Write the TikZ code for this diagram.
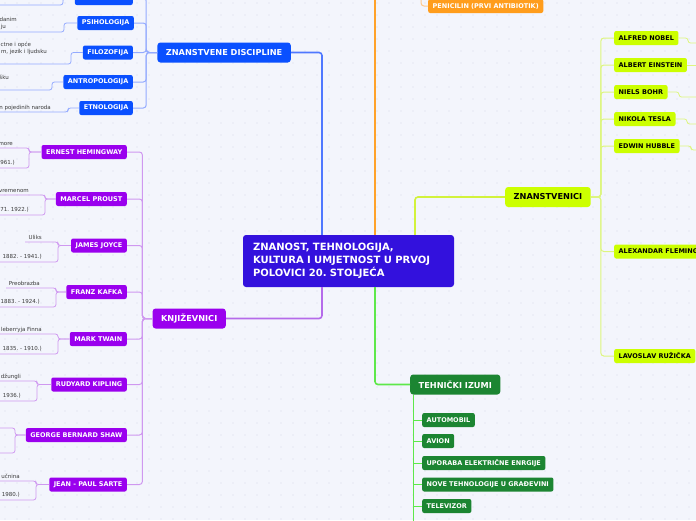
\documentclass[tikz,border=0pt]{standalone}
\usepackage{fontspec}
\setmainfont{DejaVu Sans}
\usetikzlibrary{positioning}
\frenchspacing
\definecolor{paper}{HTML}{F3F5FC}
\definecolor{dotc}{HTML}{D6DAE8}
\definecolor{rootc}{HTML}{3311DD}
\definecolor{bluec}{HTML}{0A50FF}
\definecolor{blueln}{HTML}{4F78FF}
\definecolor{bluelt}{HTML}{93AAFF}
\definecolor{orangec}{HTML}{FF9D1C}
\definecolor{orangeln}{HTML}{FFA22A}
\definecolor{orangelt}{HTML}{FFC98C}
\definecolor{limec}{HTML}{CCFF00}
\definecolor{limeln}{HTML}{D2F23C}
\definecolor{limelt}{HTML}{DDF57E}
\definecolor{greenc}{HTML}{1C8532}
\definecolor{greenln}{HTML}{5EE84A}
\definecolor{purplec}{HTML}{9A00EE}
\definecolor{purpleln}{HTML}{B56BEA}
\definecolor{purplelt}{HTML}{CF98F0}
\definecolor{leafc}{HTML}{3A3A3A}
\tikzset{
  topic/.style={rounded corners=2pt,inner xsep=4.5pt,inner ysep=0pt,minimum height=14pt,
    font=\bfseries\fontsize{6.5}{7}\selectfont,text=white},
  maintopic/.style={topic,rounded corners=3pt,inner xsep=8.5pt,minimum height=20pt,
    font=\bfseries\fontsize{8.2}{9}\selectfont},
  root/.style={fill=rootc,text=white,rounded corners=3pt,align=left,text width=191pt,
    inner xsep=10pt,minimum height=52pt,font=\bfseries\fontsize{10}{13}\selectfont},
  bt/.style={topic,fill=bluec},
  pt/.style={topic,fill=purplec},
  lt/.style={topic,fill=limec,text=black},
  gt/.style={topic,fill=greenc},
  ot/.style={topic,fill=orangec},
  leaf/.style={inner sep=0pt,anchor=base east,font=\fontsize{5.5}{6}\selectfont,text=leafc},
  trunk/.style={line width=1.6pt,rounded corners=3pt},
  link/.style={line width=1pt,rounded corners=3pt},
  under/.style={line width=0.8pt,rounded corners=2.5pt}
}
\begin{document}
\begin{tikzpicture}[x=1pt,y=-1pt]
  \useasboundingbox (0,0) rectangle (696,520);
  \fill[paper] (0,0) rectangle (696,520);
  \foreach \i in {0,...,57}{\foreach \j in {0,...,43}{\fill[dotc] (\i*12+5,\j*12+3) circle (0.55pt);}}
  \clip (0,0) rectangle (696,520);
  % centre topic
  \node[root] (root) at (348.5,261) {ZNANOST, TEHNOLOGIJA,\\KULTURA I UMJETNOST U PRVOJ\\POLOVICI 20. STOLJEĆA};
  % main topics
  \node[maintopic,fill=bluec,anchor=east] (zd) at (291,52.5) {ZNANSTVENE DISCIPLINE};
  \node[maintopic,fill=purplec,anchor=east] (kn) at (226,318.5) {KNJIŽEVNICI};
  \node[maintopic,fill=limec,text=black,anchor=west] (zn) at (505,197) {ZNANSTVENICI};
  \node[maintopic,fill=greenc,anchor=west] (ti) at (410,384.5) {TEHNIČKI IZUMI};
  \node[ot,anchor=west] (pen) at (428,6) {PENICILIN (PRVI ANTIBIOTIK)};
  % trunks
  \coordinate (xb) at (322,0);
  \coordinate (xo) at (375,-5);
  \coordinate (xl) at (415,0);
  \coordinate (xp) at (421,-5);
  \coordinate (gbot) at (413,525);
  \draw[trunk,blueln] (root.north -| xb) |- (zd.east);
  \draw[trunk,orangeln] (root.north -| xo) -- (xo);
  \draw[trunk,limeln] (root.north -| xl) |- (zn.west);
  \draw[trunk,greenln] (root.south -| xo) |- (ti.west);
  \draw[trunk,purpleln] (root.south -| xb) |- (kn.east);
  \draw[link,orangelt] (xp) |- (pen.west);
  % scientific disciplines
  \node[bt,anchor=east,minimum width=58pt] (tb) at (133,-2) {};
  \node[bt,anchor=east] (ps) at (134,23) {PSIHOLOGIJA};
  \node[bt,anchor=east] (fi) at (133,52.5) {FILOZOFIJA};
  \node[bt,anchor=east] (an) at (133,82) {ANTROPOLOGIJA};
  \node[bt,anchor=east] (et) at (133,108) {ETNOLOGIJA};
  \foreach \c in {tb,ps,fi,an,et} \draw[link,bluelt] (zd.west) -- ++(-11,0) |- (\c.east);
  \foreach \c/\vx/\vy in {tb/63/5,ps/64/32,fi/71/64,an/52/90,et/68/112}{
    \coordinate (\c-u) at (\vx,\vy);
    \draw[under,bluelt] (\c.west) -| (\c-u) -- (-5,\vy);}
  \node[leaf] (ps-t1) at (17,21.5) {danim};
  \node[leaf] (ps-t2) at (6,28.5) {ju};
  \node[leaf,anchor=base west] (fi-t1) at (0.5,46.5) {ctne i opće};
  \node[leaf] (fi-t2) at (47,53.5) {m, jezik i ljudsku};
  \node[leaf] (an-t) at (9,79.5) {šku};
  \node[leaf] (et-t) at (51,109.5) {n pojedinih naroda};
  % writers
  \foreach \c/\cy/\txt in {hem/152/ERNEST HEMINGWAY, pr/199/MARCEL PROUST, jj/245.5/JAMES JOYCE,
      fk/292/FRANZ KAFKA, mt/339/MARK TWAIN, rk/384.5/RUDYARD KIPLING,
      gb/435/GEORGE BERNARD SHAW, js/484.5/JEAN - PAUL SARTE}
    \node[pt,anchor=east] (\c) at (127,\cy) {\txt};
  \foreach \c in {hem,pr,jj,fk,mt,rk,gb,js} \draw[link,purplelt] (kn.west) -- ++(-10,0) |- (\c.east);
  \foreach \c/\vx/\ya/\yb/\xa/\toptxt/\bottxt in {
      hem/29/148/168/-5/more/961.),
      pr/45/195/215/-5/vremenom/71. 1922.),
      jj/58/242/262/25/Uliks/1882. - 1941.),
      fk/56/288/307/6/Preobrazba/1883. - 1924.),
      mt/58/334/354/-5/leberryja Finna/1835. - 1910.),
      rk/37/381/401/-5/džungli/1936.),
      gb/15/428/453/-5//,
      js/36/481/500/-5/učnina/1980.)}{
    \coordinate (\c-a) at (\vx,\ya);
    \coordinate (\c-b) at (\vx,\yb);
    \draw[under,purplelt] (\c.west) -| (\c-a) -- (\xa,\ya);
    \draw[under,purplelt] (\c.west) -| (\c-b) -- (-5,\yb);
    \node[leaf] (\c-ta) at (\vx-16,\ya-3) {\toptxt};
    \node[leaf] (\c-tb) at ({max(\vx-16,15)},\yb-4) {\bottxt};}
  % scientists
  \foreach \c/\cy/\txt in {nob/38/ALFRED NOBEL, ein/65/ALBERT EINSTEIN, boh/92/NIELS BOHR,
      tes/119/NIKOLA TESLA, hub/146/EDWIN HUBBLE, fle/251.5/ALEXANDAR FLEMING,
      ruz/356/LAVOSLAV RUŽIČKA}
    \node[lt,anchor=west] (\c) at (614,\cy) {\txt};
  \foreach \c in {nob,ein,boh,tes,hub,fle,ruz} \draw[link,limelt] (zn.east) -- ++(10,0) |- (\c.west);
  \foreach \c/\sx/\sy in {nob/688/43,boh/679/97,tes/687/124,hub/691/150}{
    \coordinate (\c-u) at (\sx,\sy);
    \draw[under,limelt] (\c.east) -| (\c-u) -- (705,\sy);}
  \coordinate (ein-u) at (705,65);
  \draw[under,limelt] (ein.east) -- (ein-u);
  % inventions
  \foreach \c/\cy/\txt in {aut/420/AUTOMOBIL, avi/441/AVION, upo/463/UPORABA ELEKTRIČNE ENRGIJE,
      nov/484.5/NOVE TEHNOLOGIJE U GRAĐEVINI, tel/506/TELEVIZOR}
    \node[gt,anchor=west] (\c) at (422,\cy) {\txt};
  \draw[link,greenln] (ti.south -| gbot) -- (gbot);
  \foreach \c in {aut,avi,upo,nov,tel} \draw[link,greenln] (\c.west -| gbot) -- (\c.west);
\end{tikzpicture}
\end{document}
